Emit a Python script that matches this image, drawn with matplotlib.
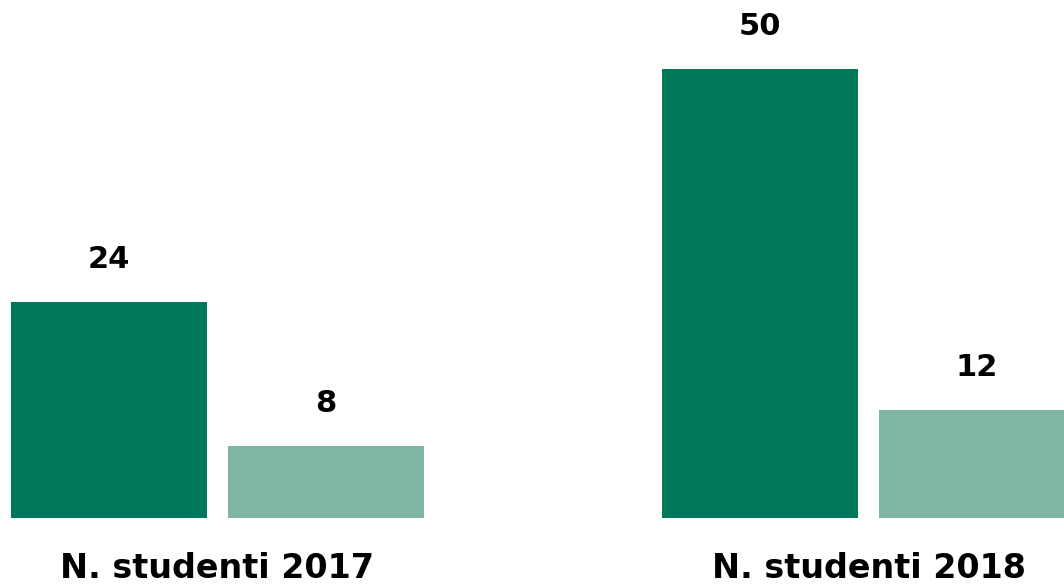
import matplotlib
matplotlib.use("Agg")
import matplotlib.pyplot as plt

categories = ["N. studenti 2017", "N. studenti 2018"]
dark_values = [24, 50]
light_values = [8, 12]

dark_color = "#00785A"
light_color = "#7FB5A3"

fig = plt.figure(figsize=(10.64, 5.87), dpi=100)
# axes bottom at 69 px from the bottom, top at figure top
ax = fig.add_axes([0, 69 / 587, 1, 518 / 587])

centers = [217.5, 868.5]
w = 196
off = 108.5
xd = [c - off for c in centers]
xl = [c + off for c in centers]

ax.bar(xd, dark_values, width=w, color=dark_color)
ax.bar(xl, light_values, width=w, color=light_color)

ax.set_xlim(0, 1064)
ax.set_ylim(0, 518 / 8.98)

font = dict(family="DejaVu Sans", weight="bold", color="black")
for x, v in zip(xd + xl, dark_values + light_values):
    ax.annotate(str(v), (x, v), xytext=(0, 34), textcoords="offset pixels",
                ha="center", va="baseline", fontsize=22, **font)

for c, lab in zip(centers, categories):
    ax.annotate(lab, (c, 0), xytext=(0, -67), textcoords="offset pixels",
                ha="center", va="bottom", fontsize=24, annotation_clip=False, **font)

ax.axis("off")
fig.savefig("out.png", dpi=100)
